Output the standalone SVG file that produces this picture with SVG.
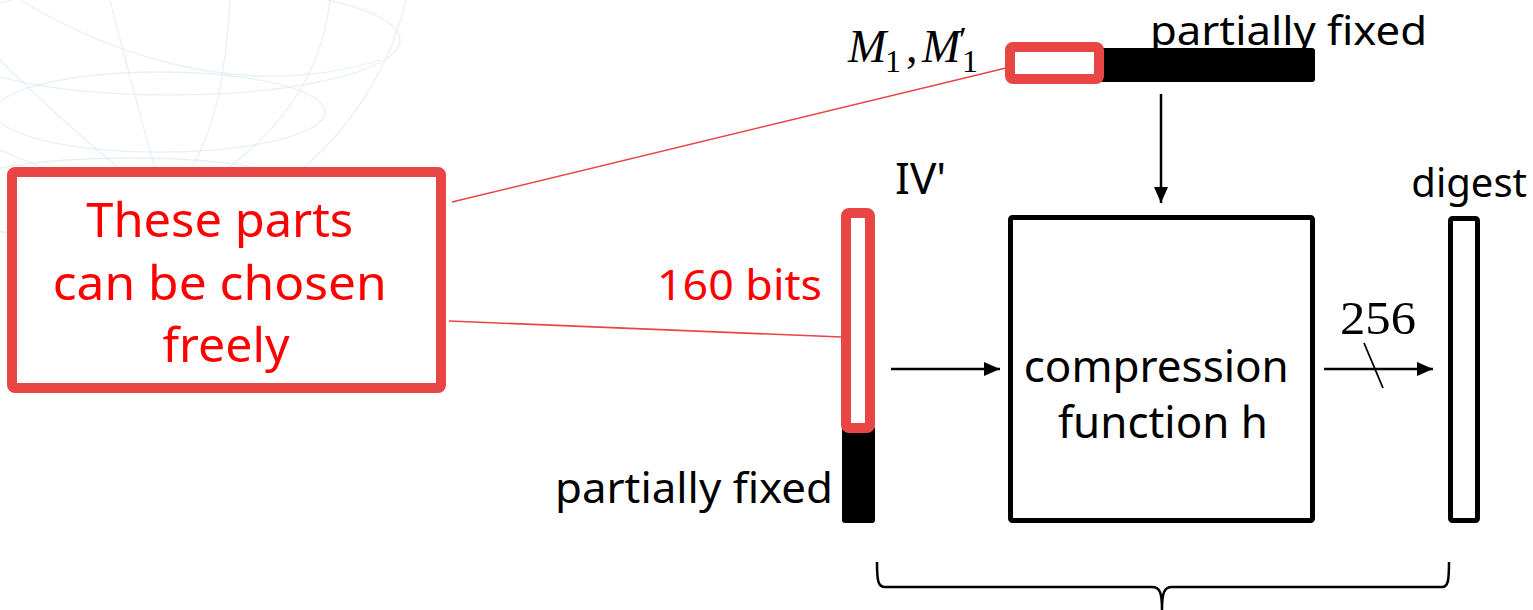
<svg xmlns="http://www.w3.org/2000/svg" width="1533" height="610" viewBox="0 0 1533 610">
<style>
.sans{font-family:"Noto Sans","Open Sans","Liberation Sans",sans-serif;}
.math{font-family:"Liberation Serif","DejaVu Serif",serif;}
.blk{fill:#000;}
.red{fill:#ff0000;}
.hl{fill:none;stroke:#e94545;stroke-width:10;stroke-linejoin:round;}
.frame{fill:#fff;stroke:#000;stroke-width:5;stroke-linejoin:round;}
.conn{fill:none;stroke:#000;stroke-width:2.5;}
.lead{fill:none;stroke:#e94545;stroke-width:1.6;}
.globe{fill:none;stroke:#d9e6f2;stroke-width:1.3;opacity:0.6;}
</style>
<defs>
<marker id="ah" viewBox="0 0 16 14" refX="16" refY="7" markerWidth="16" markerHeight="14" markerUnits="userSpaceOnUse" orient="auto">
<path d="M0,0 L16,7 L0,14 Z" fill="#000"/>
</marker>
<clipPath id="gclip"><rect x="0" y="0" width="460" height="250"/></clipPath>
</defs>
<rect width="1533" height="610" fill="#fff"/>
<g id="background" clip-path="url(#gclip)">
<circle class="globe" cx="95" cy="-75" r="320"/>
<ellipse class="globe" cx="160" cy="112" rx="165" ry="40"/>
<ellipse class="globe" cx="130" cy="200" rx="200" ry="42"/>
<ellipse class="globe" cx="170" cy="40" rx="230" ry="55"/>
<path class="globe" d="M110,0 C130,80 150,150 165,205"/>
<path class="globe" d="M230,0 C225,80 215,150 165,205"/>
<path class="globe" d="M330,0 C320,90 260,160 165,205"/>
<path class="globe" d="M0,60 C60,120 120,170 165,205"/>
<path class="globe" d="M0,150 C60,175 110,195 165,205"/>
<path class="globe" d="M20,0 C120,60 250,100 380,60"/>
</g>
<g id="connectors">
<line class="lead" x1="452" y1="202" x2="1006" y2="68"/>
<line class="lead" x1="449" y1="321" x2="842" y2="337"/>
<line class="conn" x1="1161" y1="94" x2="1161" y2="203" marker-end="url(#ah)"/>
<line class="conn" x1="891" y1="369" x2="1000" y2="369" marker-end="url(#ah)"/>
<line class="conn" x1="1324" y1="369" x2="1433" y2="369" marker-end="url(#ah)"/>
<line class="conn" x1="1364" y1="343" x2="1383" y2="388" style="stroke-width:1.8"/>
<text class="math blk" x="1340" y="334" font-size="46" textLength="76" lengthAdjust="spacingAndGlyphs">256</text>
<path class="conn" d="M877,562 C877,581 878,587 885,587 L1152,587 C1160,587 1162,593 1162,610 M1162,610 C1162,593 1164,587 1172,587 L1442,587 C1448,587 1449,581 1449,562"/>
</g>
<g id="note">
<rect class="hl" x="12" y="172" width="429" height="216" rx="3" style="fill:#fff"/>
<text class="sans red" font-size="48" text-anchor="middle">
<tspan x="226" y="237" textLength="267" lengthAdjust="spacingAndGlyphs">These parts</tspan>
<tspan x="226" y="300" textLength="334" lengthAdjust="spacingAndGlyphs">can be chosen</tspan>
<tspan x="226" y="362" textLength="127" lengthAdjust="spacingAndGlyphs">freely</tspan>
</text>
</g>
<g id="message">
<rect x="1100" y="48" width="215" height="34" rx="3" fill="#000"/>
<rect class="hl" x="1010" y="47" width="89" height="32" rx="3" style="fill:#fff"/>
<text class="math blk" font-size="46">
<tspan x="848" y="62" font-style="italic">M</tspan>
<tspan x="885" y="72" font-size="32">1</tspan>
<tspan x="906" y="62">,</tspan>
<tspan x="922" y="62" font-style="italic">M</tspan>
<tspan x="959" y="52" font-size="36">′</tspan>
<tspan x="962" y="72" font-size="32">1</tspan>
</text>
<text class="sans blk" x="1150" y="45" font-size="40" textLength="277" lengthAdjust="spacingAndGlyphs">partially fixed</text>
</g>
<g id="iv">
<rect x="842" y="426" width="33" height="97" rx="3" fill="#000"/>
<rect class="hl" x="846" y="213" width="24" height="215" rx="3" style="fill:#fff"/>
<text class="sans blk" x="895" y="194" font-size="44">IV'</text>
<text class="sans red" x="657" y="300" font-size="42" textLength="165" lengthAdjust="spacingAndGlyphs">160 bits</text>
<text class="sans blk" x="555" y="503" font-size="42" textLength="278" lengthAdjust="spacingAndGlyphs">partially fixed</text>
</g>
<g id="compression">
<rect class="frame" x="1010.5" y="217.5" width="302" height="303" rx="2"/>
<text class="sans blk" font-size="44" text-anchor="middle">
<tspan x="1162" y="382" textLength="265" lengthAdjust="spacingAndGlyphs">compression</tspan>
<tspan x="1163" y="438" textLength="210" lengthAdjust="spacingAndGlyphs">function h</tspan>
</text>
</g>
<g id="digest">
<rect class="frame" x="1450.5" y="218.5" width="27" height="302" rx="2"/>
<text class="sans blk" x="1527" y="197" font-size="40" text-anchor="end">digest</text>
</g>
</svg>
